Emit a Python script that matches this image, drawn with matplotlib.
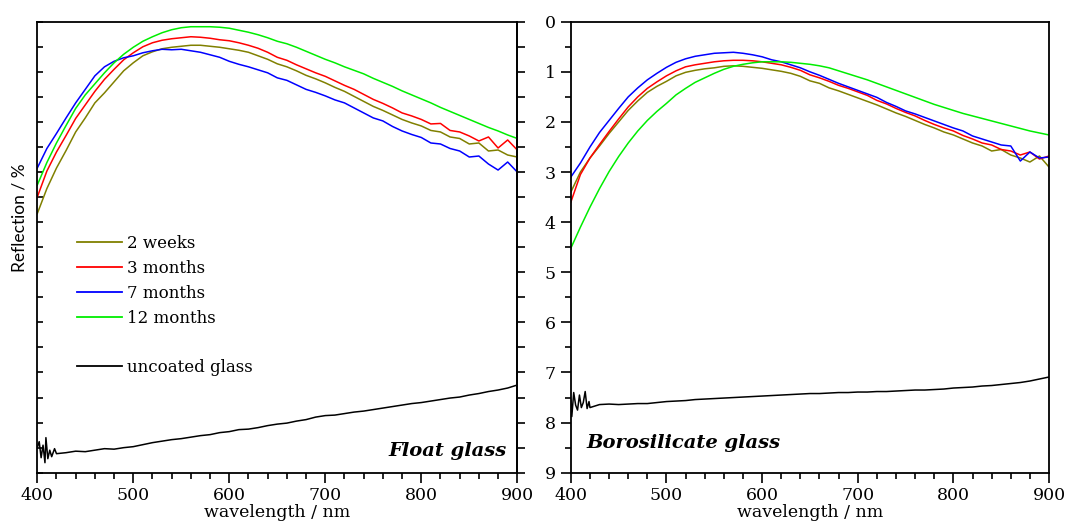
import matplotlib.pyplot as plt
from matplotlib.lines import Line2D
from matplotlib.ticker import MultipleLocator

plt.rcParams['font.family'] = 'DejaVu Serif'

# wavelength grid (nm)
wl = list(range(400, 901, 10))

# Float glass spectra (reflection, %)
float_2w = [3.83, 3.33, 2.92, 2.57, 2.20, 1.92, 1.62, 1.42, 1.20, 0.98,
            0.82, 0.68, 0.60, 0.54, 0.51, 0.49, 0.47, 0.47, 0.49, 0.51,
            0.54, 0.57, 0.61, 0.68, 0.75, 0.84, 0.90, 0.98, 1.07, 1.14,
            1.22, 1.31, 1.39, 1.49, 1.59, 1.69, 1.77, 1.86, 1.95, 2.02,
            2.08, 2.17, 2.20, 2.30, 2.33, 2.44, 2.42, 2.58, 2.56, 2.66, 2.70]
float_3m = [3.50, 2.98, 2.60, 2.27, 1.93, 1.66, 1.39, 1.15, 0.95, 0.76,
            0.62, 0.50, 0.42, 0.37, 0.34, 0.32, 0.30, 0.31, 0.33, 0.36,
            0.38, 0.42, 0.47, 0.53, 0.61, 0.71, 0.77, 0.86, 0.94, 1.02,
            1.09, 1.18, 1.27, 1.35, 1.45, 1.55, 1.63, 1.72, 1.82, 1.88,
            1.95, 2.04, 2.03, 2.17, 2.20, 2.28, 2.38, 2.30, 2.52, 2.36, 2.56]
float_7m = [2.92, 2.53, 2.23, 1.92, 1.62, 1.35, 1.08, 0.90, 0.79, 0.72,
            0.68, 0.62, 0.58, 0.55, 0.56, 0.55, 0.58, 0.61, 0.66, 0.71,
            0.79, 0.85, 0.90, 0.96, 1.02, 1.12, 1.17, 1.26, 1.35, 1.41,
            1.48, 1.56, 1.62, 1.72, 1.82, 1.92, 1.98, 2.09, 2.18, 2.25,
            2.31, 2.42, 2.44, 2.53, 2.58, 2.70, 2.68, 2.84, 2.96, 2.80, 3.00]
float_12m = [3.26, 2.81, 2.42, 2.07, 1.73, 1.46, 1.24, 1.02, 0.82, 0.65,
             0.51, 0.39, 0.30, 0.22, 0.16, 0.12, 0.10, 0.10, 0.10, 0.11,
             0.13, 0.17, 0.21, 0.26, 0.32, 0.39, 0.44, 0.51, 0.59, 0.67,
             0.75, 0.82, 0.90, 0.97, 1.04, 1.13, 1.21, 1.29, 1.38, 1.46,
             1.54, 1.62, 1.71, 1.79, 1.87, 1.95, 2.03, 2.11, 2.18, 2.26, 2.33]
wl_float_bare = [400, 402, 404, 406, 408, 409, 411, 413, 415, 418] + list(range(420, 901, 10))
float_bare = [8.50, 8.38, 8.70, 8.45, 8.80, 8.30, 8.72, 8.55, 8.68, 8.52,
              8.62, 8.60, 8.57, 8.58, 8.55, 8.52, 8.53, 8.50, 8.48, 8.44,
              8.40, 8.37, 8.34, 8.32, 8.29, 8.26, 8.24, 8.20, 8.18, 8.14,
              8.13, 8.10, 8.06, 8.03, 8.01, 7.97, 7.94, 7.89, 7.86, 7.85,
              7.82, 7.79, 7.77, 7.74, 7.71, 7.68, 7.65, 7.62, 7.60, 7.57,
              7.54, 7.51, 7.49, 7.45, 7.42, 7.38, 7.35, 7.31, 7.25]

# Borosilicate glass spectra (reflection, %)
boro_2w = [3.40, 3.00, 2.72, 2.48, 2.23, 2.00, 1.77, 1.58, 1.41, 1.29,
           1.19, 1.08, 1.01, 0.97, 0.94, 0.92, 0.89, 0.88, 0.89, 0.91,
           0.93, 0.96, 0.99, 1.03, 1.09, 1.18, 1.23, 1.32, 1.38, 1.45,
           1.52, 1.59, 1.66, 1.74, 1.82, 1.89, 1.97, 2.05, 2.12, 2.20,
           2.26, 2.34, 2.42, 2.48, 2.58, 2.55, 2.66, 2.72, 2.80, 2.68, 2.90]
boro_3m = [3.60, 3.05, 2.72, 2.45, 2.19, 1.94, 1.70, 1.50, 1.33, 1.20,
           1.08, 0.98, 0.90, 0.86, 0.83, 0.80, 0.78, 0.77, 0.77, 0.78,
           0.80, 0.83, 0.86, 0.91, 0.97, 1.06, 1.12, 1.19, 1.27, 1.33,
           1.40, 1.47, 1.57, 1.64, 1.73, 1.81, 1.88, 1.97, 2.05, 2.12,
           2.18, 2.27, 2.34, 2.42, 2.46, 2.55, 2.58, 2.66, 2.60, 2.74, 2.68]
boro_7m = [3.10, 2.82, 2.50, 2.21, 1.97, 1.73, 1.50, 1.32, 1.16, 1.03,
           0.91, 0.81, 0.74, 0.69, 0.66, 0.63, 0.62, 0.61, 0.63, 0.66,
           0.70, 0.76, 0.80, 0.86, 0.92, 1.00, 1.07, 1.15, 1.23, 1.30,
           1.37, 1.44, 1.51, 1.61, 1.69, 1.78, 1.84, 1.91, 1.98, 2.05,
           2.12, 2.18, 2.28, 2.34, 2.40, 2.46, 2.48, 2.78, 2.60, 2.72, 2.70]
boro_12m = [4.52, 4.10, 3.70, 3.33, 2.99, 2.69, 2.42, 2.18, 1.97, 1.79,
            1.63, 1.46, 1.33, 1.21, 1.12, 1.03, 0.95, 0.89, 0.85, 0.82,
            0.80, 0.80, 0.80, 0.81, 0.83, 0.85, 0.88, 0.92, 0.98, 1.04,
            1.10, 1.16, 1.23, 1.30, 1.37, 1.44, 1.51, 1.58, 1.65, 1.71,
            1.77, 1.83, 1.88, 1.93, 1.98, 2.03, 2.08, 2.13, 2.18, 2.22, 2.26]
wl_boro_bare = [400, 401, 403, 405, 407, 409, 411, 413, 415, 417, 419] + list(range(420, 901, 10))
boro_bare = [7.55, 7.88, 7.40, 7.65, 7.75, 7.45, 7.70, 7.60, 7.38, 7.72, 7.58,
             7.70, 7.64, 7.63, 7.64, 7.63, 7.62, 7.62, 7.60, 7.58, 7.57,
             7.56, 7.54, 7.53, 7.52, 7.51, 7.50, 7.49, 7.48, 7.47, 7.46,
             7.45, 7.44, 7.43, 7.42, 7.42, 7.41, 7.40, 7.40, 7.39, 7.39,
             7.38, 7.38, 7.37, 7.36, 7.35, 7.35, 7.34, 7.33, 7.31, 7.30,
             7.29, 7.27, 7.26, 7.24, 7.22, 7.20, 7.17, 7.13, 7.09]

labels = ['2 weeks', '3 months', '7 months', '12 months']
colors = ['#808000', '#ff0000', '#0000ff', '#00ee00']

fig = plt.figure(figsize=(10.65, 5.27), dpi=100)
axL = fig.add_axes([0.035, 0.103, 0.4507, 0.8558])
axR = fig.add_axes([0.536, 0.103, 0.449, 0.8558])

for ys, c in zip([float_2w, float_3m, float_7m, float_12m], colors):
    axL.plot(wl, ys, color=c, lw=1.1)
axL.plot(wl_float_bare, float_bare, color='black', lw=1.1)

for ys, c in zip([boro_2w, boro_3m, boro_7m, boro_12m], colors):
    axR.plot(wl, ys, color=c, lw=1.1)
axR.plot(wl_boro_bare, boro_bare, color='black', lw=1.1)

for ax in (axL, axR):
    ax.set_xlim(400, 900)
    ax.set_ylim(9, 0)
    ax.xaxis.set_major_locator(MultipleLocator(100))
    ax.xaxis.set_minor_locator(MultipleLocator(20))
    ax.tick_params(axis='x', which='major', direction='out', length=7, width=1.2,
                   labelsize=12.5, top=False, pad=3)
    ax.tick_params(axis='x', which='minor', direction='out', length=4, width=1.2, top=False)
    ax.set_xlabel('wavelength / nm', fontsize=12.5, labelpad=0)
    for s in ax.spines.values():
        s.set_linewidth(1.3)

# left panel: unlabeled ticks, inward on the left, outward on the right
axL.yaxis.set_major_locator(MultipleLocator(0.5))
axL.tick_params(axis='y', which='major', direction='in', length=4, width=1.2,
                labelleft=False, right=False)
sec = axL.secondary_yaxis('right')
sec.yaxis.set_major_locator(MultipleLocator(0.5))
sec.tick_params(axis='y', direction='out', length=6, width=1.2, labelright=False)
sec.spines['right'].set_linewidth(1.3)

# right panel: labeled left axis, no right ticks
axR.yaxis.set_major_locator(MultipleLocator(1))
axR.yaxis.set_minor_locator(MultipleLocator(0.5))
axR.tick_params(axis='y', which='major', direction='out', length=7, width=1.2,
                labelsize=12.5, right=False, pad=4)
axR.tick_params(axis='y', which='minor', direction='out', length=4, width=1.2, right=False)

fig.text(20 / 1065, 1 - 218 / 527, 'Reflection / %', rotation=90, ha='center', va='center',
         fontsize=12.5, family='Lato')

handles = [Line2D([], [], color=c, lw=1.3) for c in colors]
handles.append(Line2D([], [], color='none'))
handles.append(Line2D([], [], color='black', lw=1.3))
axL.legend(handles, labels + [' ', 'uncoated glass'], loc='upper left',
           bbox_to_anchor=(0.083, 0.527), frameon=False, fontsize=12,
           handlelength=2.7, handletextpad=0.3, borderpad=0, borderaxespad=0,
           labelspacing=0.47)

axL.text(0.9785, 0.048, 'Float glass', transform=axL.transAxes, ha='right', va='center',
         fontsize=14, fontweight='bold', style='italic')
axR.text(0.033, 0.066, 'Borosilicate glass', transform=axR.transAxes, ha='left', va='center',
         fontsize=14, fontweight='bold', style='italic')

fig.savefig('out.png', dpi=100)
